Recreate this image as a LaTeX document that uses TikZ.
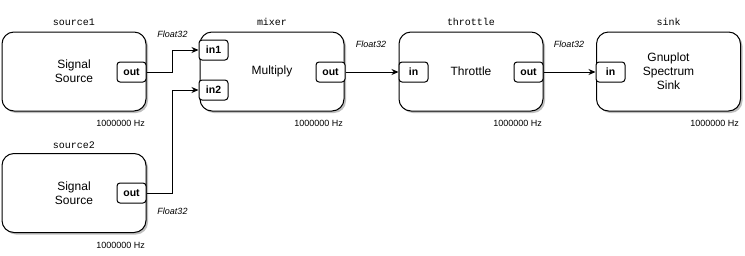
\documentclass[tikz,border=0pt]{standalone}
\usepackage{fontspec}
\setmainfont{Liberation Sans}
\newfontfamily\labelmono{Liberation Mono}
\usetikzlibrary{shadows,arrows.meta}
\begin{document}
\begin{tikzpicture}[x=1pt,y=-1pt,
  block/.style={draw, rounded corners=12pt, line width=1pt, fill=white,
    minimum width=144pt, minimum height=79pt, align=center, inner sep=0pt,
    font=\fontsize{12}{14}\selectfont,
    drop shadow={shadow xshift=2pt, shadow yshift=-2pt, opacity=0.25, fill=black}},
  port/.style={draw, rounded corners=3pt, line width=1pt, fill=white,
    minimum width=29pt, minimum height=20pt, inner sep=0pt,
    font=\bfseries\fontsize{10.5}{12}\selectfont},
  blabel/.style={font=\labelmono\fontsize{10}{12}\selectfont},
  rate/.style={anchor=east, inner sep=0pt, font=\fontsize{9}{11}\selectfont},
  dtype/.style={font=\itshape\fontsize{9}{11}\selectfont},
  conn/.style={line width=1pt, -{Stealth[length=7pt,width=6pt]}}]
\useasboundingbox (0,0) rectangle (745,255);

% blocks
\node[block] (source1) at (74,71.5) {Signal\\Source};
\node[block] (source2) at (74,193) {Signal\\Source};
\node[block] (mixer) at (272,71.5) {Multiply};
\node[block] (throttle) at (471,71.5) {Throttle};
\node[block] (sink) at (668.5,71.5) {Gnuplot\\Spectrum\\Sink};

% block names
\node[blabel] (n1) at (74,22) {source1};
\node[blabel] (n2) at (74,145) {source2};
\node[blabel] (n3) at (272,22) {mixer};
\node[blabel] (n4) at (471,22) {throttle};
\node[blabel] (n5) at (668.5,22) {sink};

% rates
\node[rate] (r1) at (145,123) {1000000 Hz};
\node[rate] (r2) at (145,245) {1000000 Hz};
\node[rate] (r3) at (343,123) {1000000 Hz};
\node[rate] (r4) at (542,123) {1000000 Hz};
\node[rate] (r5) at (739,123) {1000000 Hz};

% ports
\node[port] (s1out) at (131.5,72) {out};
\node[port] (s2out) at (131.5,193) {out};
\node[port] (in1) at (213.5,50) {in1};
\node[port] (in2) at (213.5,90) {in2};
\node[port] (mout) at (330.5,72) {out};
\node[port] (tin) at (413.5,72) {in};
\node[port] (tout) at (528.5,72) {out};
\node[port] (sin) at (610.5,72) {in};

% connectors
\draw[conn] (s1out.east) -- ++(26,0) |- (in1.west);
\draw[conn] (s2out.east) -- ++(26,0) |- (in2.west);
\draw[conn] (mout.east) -- (tin.west);
\draw[conn] (tout.east) -- (sin.west);

% data types
\node[dtype] (d1) at (172.5,34) {Float32};
\node[dtype] (d2) at (172.5,211) {Float32};
\node[dtype] (d3) at (371,44) {Float32};
\node[dtype] (d4) at (569,44) {Float32};
\end{tikzpicture}
\end{document}
